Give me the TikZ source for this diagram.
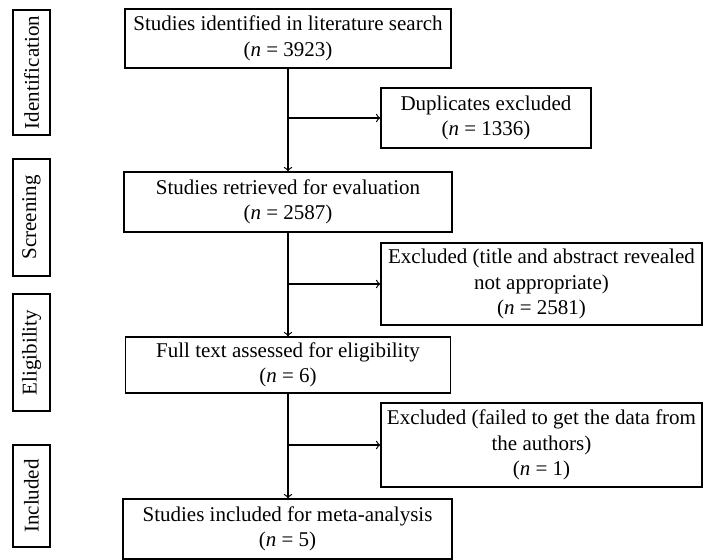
\documentclass[tikz,border=0pt]{standalone}
\usepackage{fontspec}
\setmainfont{Liberation Serif}
\usepackage{tikz}

\begin{document}
\begin{tikzpicture}
            [->, >=to, x=0.5pt, y=-0.5pt, semithick,
             box/.style={shape=rectangle, draw=black, align=center, inner sep=2pt, font=\fontsize{10.5}{12.8}\selectfont},
             phase/.style={shape=rectangle, draw=black, rotate=90, minimum height=18.5pt, inner sep=1pt, font=\fontsize{10.5}{12.8}\selectfont}]
            \useasboundingbox (0, 0) rectangle (703, 560);

            % phases on the left
            \node[phase, minimum width=62.5pt] (identification) at (31.5, 72.5) {Identification};
            \node[phase, minimum width=58.5pt] (screening) at (31.5, 217.5) {Screening};
            \node[phase, minimum width=58.5pt] (eligibility) at (31.5, 352.5) {Eligibility};
            \node[phase, minimum width=51pt] (included) at (31.5, 496) {Included};

            % main column
            \node[box, minimum width=163pt, minimum height=29.5pt] (identified) at (288, 38.5) {Studies identified in literature search\\(\textit{n} = 3923)};
            \node[box, minimum width=164pt, minimum height=30pt] (retrieved) at (288, 202) {Studies retrieved for evaluation\\(\textit{n} = 2587)};
            \node[box, minimum width=162.5pt, minimum height=28pt] (fulltext) at (288, 365) {Full text assessed for eligibility\\(\textit{n} = 6)};
            \node[box, minimum width=164.5pt, minimum height=30pt] (metaincl) at (287.5, 529) {Studies included for meta-analysis\\(\textit{n} = 5)};

            % exclusions
            \node[box, minimum width=105pt, minimum height=30pt] (duplicates) at (486, 118) {Duplicates excluded\\(\textit{n} = 1336)};
            \node[box, minimum width=160.5pt, minimum height=41pt] (excl1) at (541.5, 284) {Excluded (title and abstract revealed\\not appropriate)\\(\textit{n} = 2581)};
            \node[box, minimum width=160.5pt, minimum height=42pt] (excl2) at (541.5, 445) {Excluded (failed to get the data from\\the authors)\\(\textit{n} = 1)};

            \coordinate (split1) at (288, 118);
            \coordinate (split2) at (288, 284);
            \coordinate (split3) at (288, 445);

            \path [->] (identified) edge node {} (retrieved);
            \path [->] (retrieved) edge node {} (fulltext);
            \path [->] (fulltext.south) edge node {} (metaincl.north -| fulltext.south);
            \path [->] (split1) edge node {} (duplicates.west);
            \path [->] (split2) edge node {} (excl1.west);
            \path [->] (split3) edge node {} (excl2.west);
        \end{tikzpicture}
\end{document}
